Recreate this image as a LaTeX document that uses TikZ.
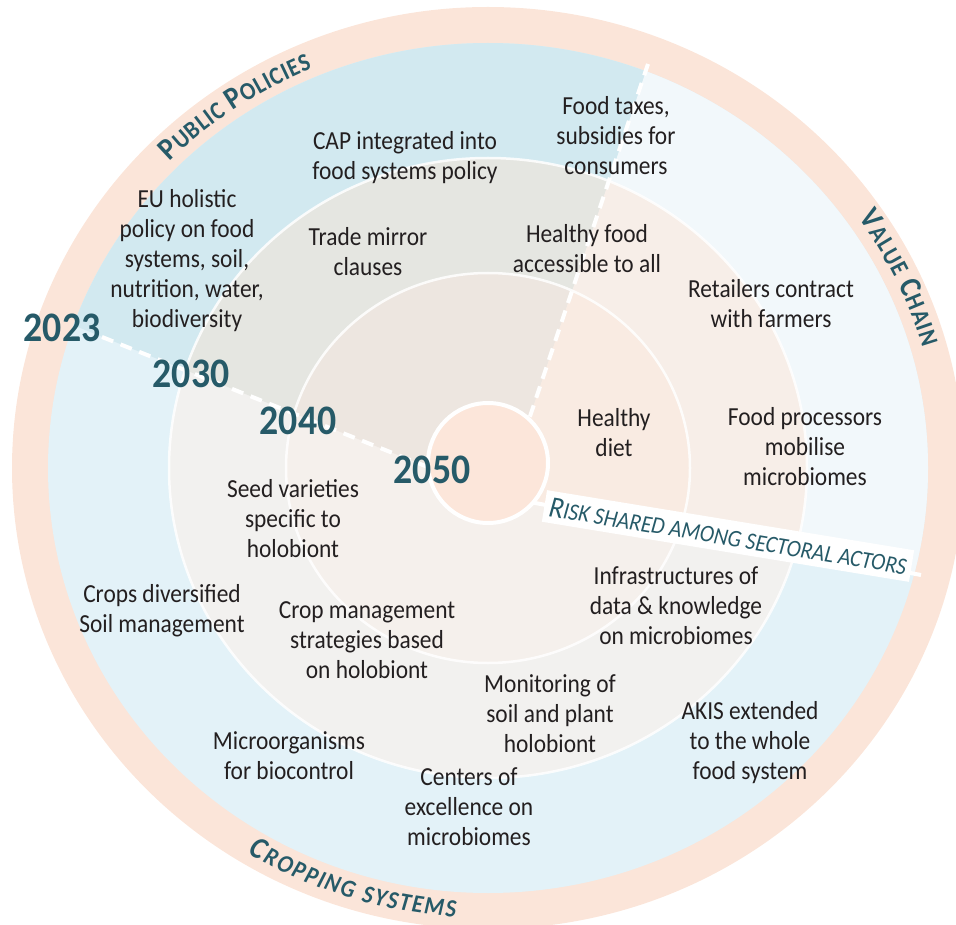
\documentclass[tikz,border=0pt]{standalone}
\usepackage{fontspec}
\setmainfont{Carlito}[FakeStretch=0.9]
\usetikzlibrary{calc,decorations.text}

\definecolor{ringpeach}{RGB}{251,229,217}
\definecolor{corepeach}{RGB}{252,230,218}
\definecolor{csone}{RGB}{227,242,248}
\definecolor{ppone}{RGB}{210,233,240}
\definecolor{vcone}{RGB}{242,248,251}
\definecolor{cstwo}{RGB}{242,241,239}
\definecolor{pptwo}{RGB}{229,230,225}
\definecolor{vctwo}{RGB}{247,238,232}
\definecolor{csthree}{RGB}{245,240,236}
\definecolor{ppthree}{RGB}{237,230,224}
\definecolor{vcthree}{RGB}{249,235,226}
\definecolor{inkteal}{RGB}{38,90,104}
\definecolor{inkdark}{RGB}{35,31,32}

\newcommand{\hdbig}{\bfseries\fontsize{31}{31}\selectfont}
\newcommand{\hdsmall}{\bfseries\fontsize{25}{25}\selectfont}

\begin{document}
\begin{tikzpicture}[x=1pt,y=1pt,
    lbl/.style={align=center,text=inkdark,font=\fontsize{26}{30}\selectfont,inner sep=0pt},
    yr/.style={text=inkteal,font=\bfseries\fontsize{42}{42}\selectfont,inner sep=0pt},
    ringline/.style={white,line width=2.5pt,opacity=.85},
    dashsep/.style={white,line width=4pt,dash pattern=on 12pt off 8pt},
    banner/.style={fill=white,text=inkteal,font=\itshape,minimum width=372pt,minimum height=32pt,inner sep=0pt},
    arclbl/.style={decorate,decoration={text along path,text align={fit to path},text color=inkteal}}]

\useasboundingbox (0,0) rectangle (956,-925);
\clip (0,0) rectangle (956,-925);

\coordinate (C) at (488,-468);
\coordinate (hub) at (503,-497);
\coordinate (endA) at (102,-337);
\coordinate (endB) at (648,-64);
\coordinate (endR) at (921,-575);
\coordinate (farA) at (-100,-256);
\coordinate (farB) at (690,60);
\coordinate (farR) at (1100,-608);

% outer band
\fill[ringpeach] (C) ellipse [x radius=476, y radius=461];

% 2023 -- 2030
\fill[csone] (C) ellipse [x radius=440, y radius=425];
\begin{scope}
  \clip (hub) -- (farA) -- (-100,60) -- (farB) -- cycle;
  \fill[ppone] (C) ellipse [x radius=440, y radius=425];
\end{scope}
\begin{scope}
  \clip (hub) -- (farB) -- (1100,60) -- (farR) -- cycle;
  \fill[vcone] (C) ellipse [x radius=440, y radius=425];
\end{scope}

% 2030 -- 2040
\fill[cstwo] (C) ellipse [x radius=319, y radius=310];
\begin{scope}
  \clip (hub) -- (farA) -- (-100,60) -- (farB) -- cycle;
  \fill[pptwo] (C) ellipse [x radius=319, y radius=310];
\end{scope}
\begin{scope}
  \clip (hub) -- (farB) -- (1100,60) -- (farR) -- cycle;
  \fill[vctwo] (C) ellipse [x radius=319, y radius=310];
\end{scope}

% 2040 -- 2050
\fill[csthree] (C) ellipse [x radius=202, y radius=195];
\begin{scope}
  \clip (hub) -- (farA) -- (-100,60) -- (farB) -- cycle;
  \fill[ppthree] (C) ellipse [x radius=202, y radius=195];
\end{scope}
\begin{scope}
  \clip (hub) -- (farB) -- (1100,60) -- (farR) -- cycle;
  \fill[vcthree] (C) ellipse [x radius=202, y radius=195];
\end{scope}

\draw[ringline] (C) ellipse [x radius=319, y radius=310];
\draw[ringline] (C) ellipse [x radius=202, y radius=195];

% sector borders
\draw[dashsep] (endA) -- (hub);
\draw[dashsep] (endB) -- (hub);
\draw[white,line width=4pt] (hub) -- (endR);

\node[circle,fill=corepeach,draw=white,line width=4pt,minimum size=120pt] (core) at (488,-463) {};

% years
\node[yr] (y2023) at (62,-328) {2023};
\node[yr] (y2030) at (191,-374) {2030};
\node[yr] (y2040) at (298,-421) {2040};
\node[yr] (y2050) at (432,-470) {2050};

% public policies
\node[lbl] (eu)    at (187,-261) {EU holistic\\policy on food\\systems, soil,\\nutrition, water,\\biodiversity};
\node[lbl] (cap)   at (405,-158) {CAP integrated into\\food systems policy};
\node[lbl] (trade) at (368,-252) {Trade mirror\\clauses};

% value chain
\node[lbl] (taxes)   at (616,-136) {Food taxes,\\subsidies for\\consumers};
\node[lbl] (access)  at (587,-249) {Healthy food\\accessible to all};
\node[lbl] (retail)  at (771,-304) {Retailers contract\\with farmers};
\node[lbl] (diet)    at (614,-433) {Healthy\\diet};
\node[lbl] (process) at (805,-447) {Food processors\\mobilise\\microbiomes};

% cropping systems
\node[lbl] (seed)    at (293,-519) {Seed varieties\\specific to\\holobiont};
\node[lbl] (crops)   at (162,-611) {Crops diversified\\Soil management};
\node[lbl] (manage)  at (367,-640) {Crop management\\strategies based\\on holobiont};
\node[lbl] (infra)   at (676,-606) {Infrastructures of\\data \& knowledge\\on microbiomes};
\node[lbl] (monitor) at (550,-714) {Monitoring of\\soil and plant\\holobiont};
\node[lbl] (akis)    at (750,-743) {AKIS extended\\to the whole\\food system};
\node[lbl] (micro)   at (289,-756) {Microorganisms\\for biocontrol};
\node[lbl] (centers) at (469,-807) {Centers of\\excellence on\\microbiomes};

\node[banner,rotate=-9.3] (risk) at (728,-536)
  {{\fontsize{30}{30}\selectfont R}{\fontsize{24}{24}\selectfont ISK SHARED AMONG SECTORAL ACTORS}};

% band titles
\path[arclbl,decoration={text={|\hdbig|P|\hdsmall|UBLIC |\hdbig|P|\hdsmall|OLICIES}}]
  ($(C)+(135:450 and 434)$) arc [start angle=135, end angle=113, x radius=450, y radius=434];
\path[arclbl,decoration={text={|\hdbig|V|\hdsmall|ALUE |\hdbig|C|\hdsmall|HAIN}}]
  ($(C)+(35:452 and 436)$) arc [start angle=35, end angle=16, x radius=452, y radius=436];
\path[arclbl,decoration={text={|\hdbig\itshape|C|\hdsmall\itshape|ROPPING SYSTEMS}}]
  ($(C)+(239:466 and 450)$) arc [start angle=239, end angle=266, x radius=466, y radius=450];

\end{tikzpicture}
\end{document}
